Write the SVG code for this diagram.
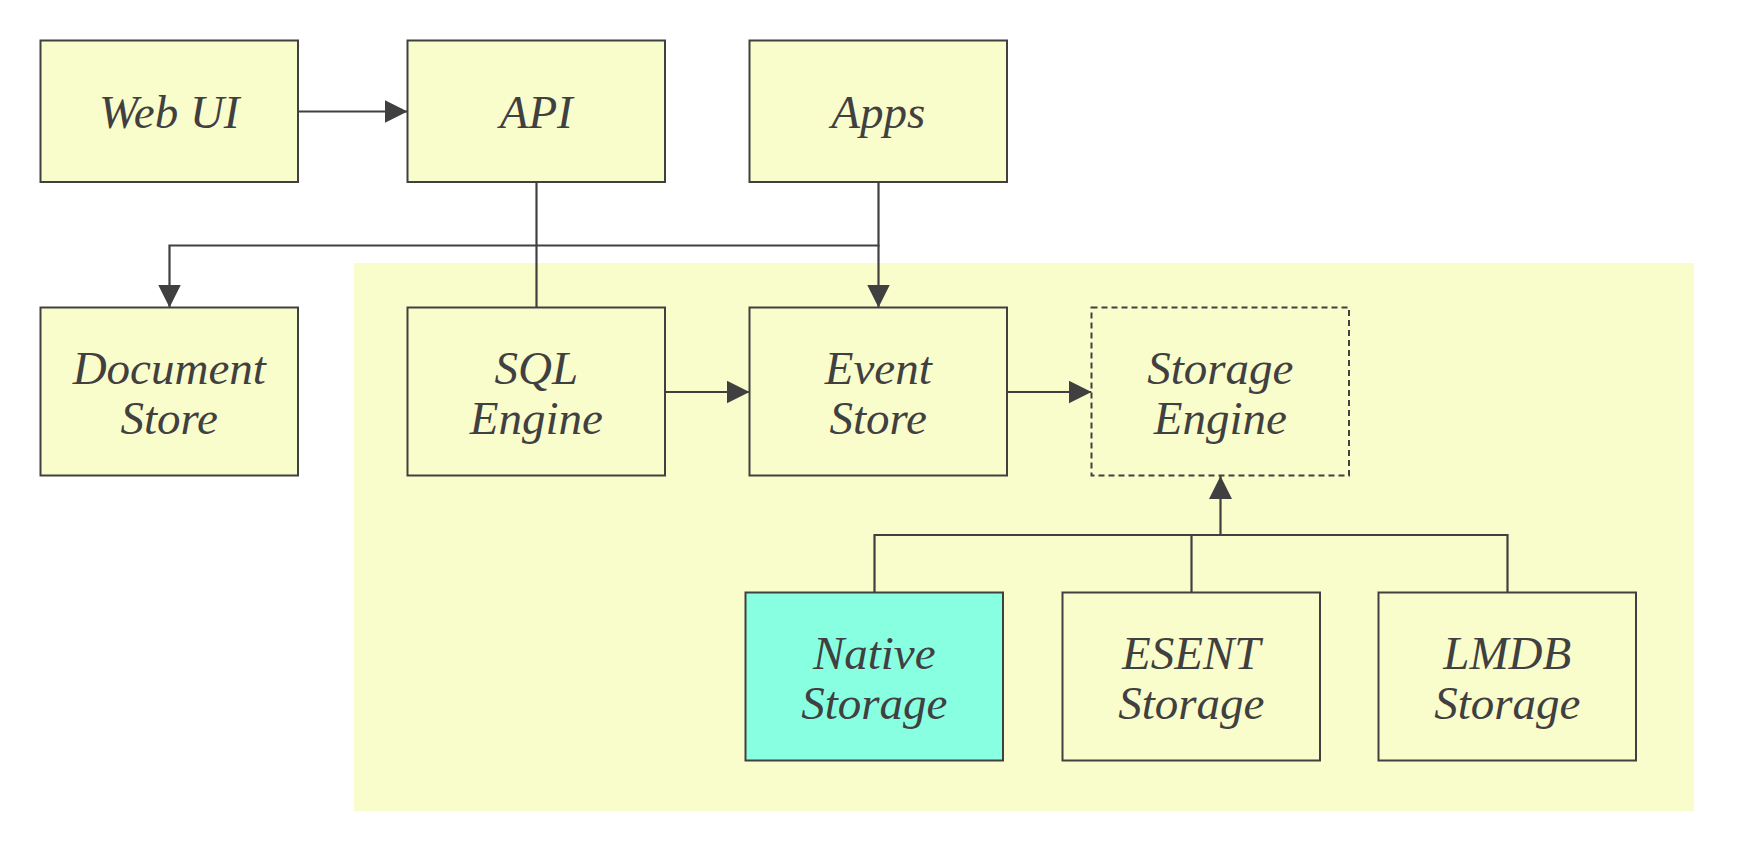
<svg xmlns="http://www.w3.org/2000/svg" width="1740" height="847" viewBox="0 0 1740 847">
<style>
.box{fill:#F9FCCB;stroke:#404040;stroke-width:2}
.native{fill:#88FFE0}
.dashed{stroke-dasharray:6 4}
.lbl{font-style:italic;font-size:47px;fill:#404040;text-anchor:middle}
.edge{fill:none;stroke:#404040;stroke-width:2.2}
.arrow{marker-end:url(#ah)}
</style>
<defs>
<marker id="ah" markerUnits="userSpaceOnUse" markerWidth="24" markerHeight="24" refX="23" refY="11.5" orient="auto">
<path d="M0,0 L23,11.5 L0,23 Z" fill="#404040"/>
</marker>
</defs>
<rect width="1740" height="847" fill="#ffffff"/>
<g id="container">
<rect x="354" y="263" width="1340" height="548" fill="#F9FCCB"/>
</g>
<g id="connectors">
<path class="edge arrow" d="M298,111.5 H407.5"/>
<path class="edge" d="M536.5,182 V307.5"/>
<path class="edge" d="M878.5,182 V245.5 H169.5 V307.5" marker-end="url(#ah)"/>
<path class="edge arrow" d="M878.5,245 V307.5"/>
<path class="edge arrow" d="M665,392 H749.5"/>
<path class="edge arrow" d="M1007,392 H1091.5"/>
<path class="edge arrow" d="M874.5,592.5 V535 H1220.5 V476"/>
<path class="edge" d="M1191.5,592.5 V535"/>
<path class="edge" d="M1507.5,592.5 V535 H1220.5"/>
</g>
<g font-family="Liberation Serif, DejaVu Serif, serif">
<g id="webui">
<rect class="box" x="40.5" y="40.5" width="257.5" height="141.5"/>
<text class="lbl" x="169.25" y="127.5">Web UI</text>
</g>
<g id="api">
<rect class="box" x="407.5" y="40.5" width="257.5" height="141.5"/>
<text class="lbl" x="536.25" y="127.5">API</text>
</g>
<g id="apps">
<rect class="box" x="749.5" y="40.5" width="257.5" height="141.5"/>
<text class="lbl" x="878.25" y="127.5">Apps</text>
</g>
<g id="documentstore">
<rect class="box" x="40.5" y="307.5" width="257.5" height="168"/>
<text class="lbl" x="169.25" y="383.5">Document</text>
<text class="lbl" x="169.25" y="433.5">Store</text>
</g>
<g id="sqlengine">
<rect class="box" x="407.5" y="307.5" width="257.5" height="168"/>
<text class="lbl" x="536.25" y="383.5">SQL</text>
<text class="lbl" x="536.25" y="433.5">Engine</text>
</g>
<g id="eventstore">
<rect class="box" x="749.5" y="307.5" width="257.5" height="168"/>
<text class="lbl" x="878.25" y="383.5">Event</text>
<text class="lbl" x="878.25" y="433.5">Store</text>
</g>
<g id="storageengine">
<rect class="box dashed" x="1091.5" y="307.5" width="257.5" height="168"/>
<text class="lbl" x="1220.25" y="383.5">Storage</text>
<text class="lbl" x="1220.25" y="433.5">Engine</text>
</g>
<g id="nativestorage">
<rect class="box native" x="745.5" y="592.5" width="257.5" height="168"/>
<text class="lbl" x="874.25" y="668.5">Native</text>
<text class="lbl" x="874.25" y="718.5">Storage</text>
</g>
<g id="esentstorage">
<rect class="box" x="1062.5" y="592.5" width="257.5" height="168"/>
<text class="lbl" x="1191.25" y="668.5">ESENT</text>
<text class="lbl" x="1191.25" y="718.5">Storage</text>
</g>
<g id="lmdbstorage">
<rect class="box" x="1378.5" y="592.5" width="257.5" height="168"/>
<text class="lbl" x="1507.25" y="668.5">LMDB</text>
<text class="lbl" x="1507.25" y="718.5">Storage</text>
</g>
</g>
</svg>
